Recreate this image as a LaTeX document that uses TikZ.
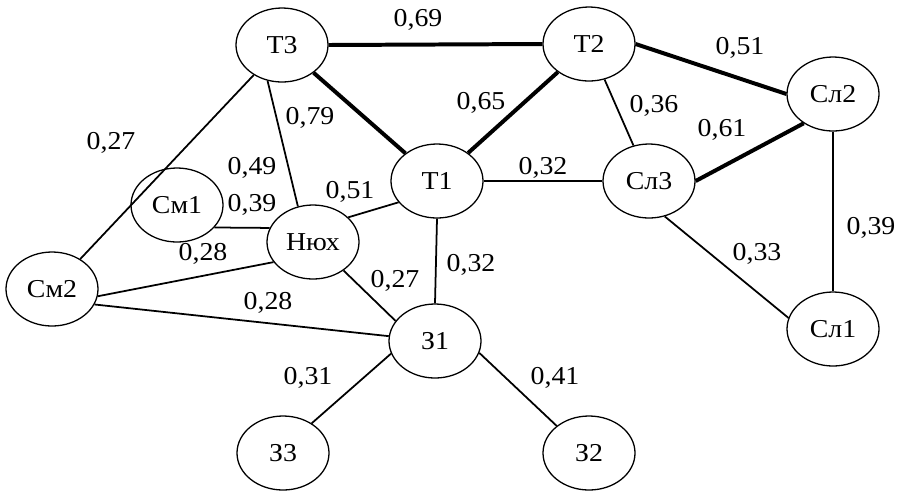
\documentclass[tikz,border=0pt]{standalone}
\usepackage{fontspec}
\setmainfont{Liberation Serif}[FakeStretch=1.08]
\usetikzlibrary{shapes.geometric}
\begin{document}
\begin{tikzpicture}[x=0.03cm,y=-0.03cm,
  vtx/.style={ellipse,draw,line width=1.1pt,minimum width=2.76cm,minimum height=2.22cm,inner sep=0pt,
    font=\fontsize{22}{26}\selectfont},
  wt/.style={inner sep=0pt,font=\fontsize{22}{26}\selectfont},
  weak/.style={line width=1.5pt},
  strong/.style={line width=3.4pt}]
\useasboundingbox (0,0) rectangle (904,491);
% vertices
\node[vtx] (T3)  at (282,45)  {Т3};
\node[vtx] (T2)  at (589,44)  {Т2};
\node[vtx] (Sl2) at (833,94)  {Сл2};
\node[vtx] (T1)  at (437,181) {Т1};
\node[vtx] (Sl3) at (649,181) {Сл3};
\node[vtx] (Sm1) at (177,205) {См1};
\node[vtx] (Nuh) at (313,242) {Нюх};
\node[vtx] (Sm2) at (52,289)  {См2};
\node[vtx] (Sl1) at (833,329) {Сл1};
\node[vtx] (Z1)  at (435,341) {З1};
\node[vtx] (Z3)  at (283,453) {З3};
\node[vtx] (Z2)  at (589,453) {З2};
% strong links
\draw[strong] (T3.east) -- (T2.west);
\draw[strong] (T2.east) -- (Sl2.west);
\draw[strong] (T3) -- (T1);
\draw[strong] (T1) -- (T2);
\draw[strong] (Sl3.east) -- (Sl2.225);
% weak links
\draw[weak] (T2) -- (Sl3);
\draw[weak] (T1.east) -- (Sl3.west);
\draw[weak] (Sl2.south) -- (Sl1.north);
\draw[weak] (Sl3.-66) -- (Sl1.166);
\draw[weak] (T3) -- (Sm2);
\draw[weak] (T3.-112) -- (Nuh.113);
\draw[weak] (Sm1.-31) -- (Nuh.162);
\draw[weak] (Nuh.35) -- (T1.209);
\draw[weak] (Sm2.-9) -- (Nuh.207);
\draw[weak] (Sm2.-20) -- (Z1.174);
\draw[weak] (Nuh.-43) -- (Z1.153);
\draw[weak] (T1.south) -- (Z1.north);
\draw[weak] (Z1.196) -- (Z3.46);
\draw[weak] (Z1.-15) -- (Z2.140);
% weights
\node[wt] (w1)  at (418,20)  {0,69};
\node[wt] (w2)  at (740,48)  {0,51};
\node[wt] (w3)  at (481,103) {0,65};
\node[wt] (w4)  at (654,106) {0,36};
\node[wt] (w5)  at (722,130) {0,61};
\node[wt] (w6)  at (543,168) {0,32};
\node[wt] (w7)  at (871,228) {0,39};
\node[wt] (w8)  at (757,254) {0,33};
\node[wt] (w9)  at (111,143) {0,27};
\node[wt] (w10) at (310,118) {0,79};
\node[wt] (w11) at (252,168) {0,49};
\node[wt] (w12) at (252,205) {0,39};
\node[wt] (w13) at (350,192) {0,51};
\node[wt] (w14) at (203,254) {0,28};
\node[wt] (w15) at (268,303) {0,28};
\node[wt] (w16) at (395,281) {0,27};
\node[wt] (w17) at (471,265) {0,32};
\node[wt] (w18) at (308,378) {0,31};
\node[wt] (w19) at (555,378) {0,41};
\end{tikzpicture}
\end{document}
